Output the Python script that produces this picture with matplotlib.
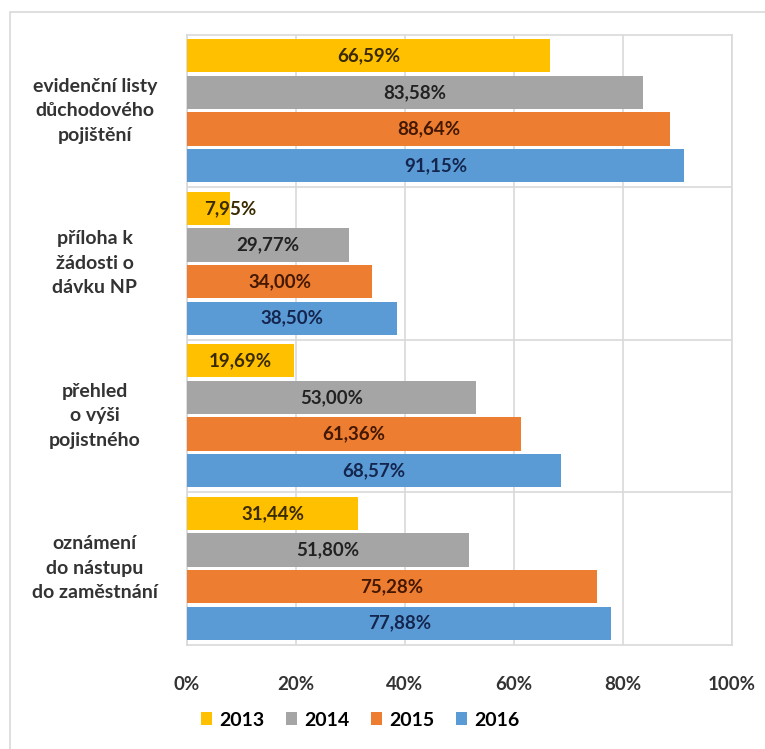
import numpy as np
import matplotlib.pyplot as plt
from matplotlib.patches import Rectangle
import matplotlib.transforms as mtransforms

plt.rcParams["font.family"] = ["Lato", "DejaVu Sans"]
plt.rcParams["font.weight"] = "bold"

categories = [
    "evidenční listy\ndůchodového\npojištění",
    "příloha k\nžádosti o\ndávku NP",
    "přehled\no výši\npojistného",
    "oznámení\ndo nástupu\ndo zaměstnání",
]
years = ["2013", "2014", "2015", "2016"]
values = {
    "2013": [66.59, 7.95, 19.69, 31.44],
    "2014": [83.58, 29.77, 53.00, 51.80],
    "2015": [88.64, 34.00, 61.36, 75.28],
    "2016": [91.15, 38.50, 68.57, 77.88],
}
xticks = [0, 20, 40, 60, 80, 100]

colors = ["#FFC000", "#A5A5A5", "#ED7D31", "#5B9BD5"]
text_colors = ["#3a2a00", "#222222", "#441800", "#14264f"]
grid_c = "#d9d9d9"

fig = plt.figure(figsize=(7.65, 7.49), dpi=100)
ax = fig.add_axes([187 / 765, 1 - 644.5 / 749, 545 / 765, 610 / 749])

# outer frame of the chart area
fig.patches.append(Rectangle((10 / 765, -0.01), 1.0, 1 - 12 / 749 + 0.01,
                             transform=fig.transFigure, fill=False,
                             edgecolor=grid_c, lw=1.2))

y = np.arange(len(categories))
pitch = 0.24
h = 0.218
for k, yr in enumerate(years):
    pos = y + (k - 1.5) * pitch
    vals = values[yr]
    ax.barh(pos, vals, height=h, color=colors[k], label=yr, zorder=3)
    for p, v in zip(pos, vals):
        lbl = f"{v:.2f}".replace(".", ",") + "%"
        ax.text(max(v / 2, 7.9), p, lbl, ha="center", va="center",
                fontsize=13.5, fontweight="bold", color=text_colors[k], zorder=4)

ax.set_xlim(0, 100)
ax.set_ylim(3.5, -0.5)
ax.set_xticks(xticks)
ax.set_xticklabels([f"{t}%" for t in xticks], fontsize=13.5, fontweight="bold",
                   color="#333333")
ax.tick_params(axis="x", length=0, pad=23)
ax.set_yticks([])
ax.grid(axis="x", color=grid_c, lw=1.2, zorder=0)
for s in [0.5, 1.5, 2.5]:
    ax.axhline(s, color=grid_c, lw=1.2, zorder=1)
for name, sp in ax.spines.items():
    sp.set_color(grid_c)
    sp.set_linewidth(1.2)

trans = mtransforms.blended_transform_factory(ax.transAxes, ax.transData)
for i, cat in enumerate(categories):
    ax.text(-0.169, i, cat, transform=trans, ha="center", va="center",
            multialignment="center", fontsize=14, fontweight="bold",
            color="#333333", linespacing=1.55)

fig.legend(loc="center", bbox_to_anchor=(360 / 765, 1 - 720 / 749), ncol=4,
           frameon=False, handlelength=0.6, handleheight=0.6,
           handletextpad=0.35, columnspacing=1.1,
           prop={"weight": "bold", "size": 14})

fig.savefig("out.png", dpi=100)
